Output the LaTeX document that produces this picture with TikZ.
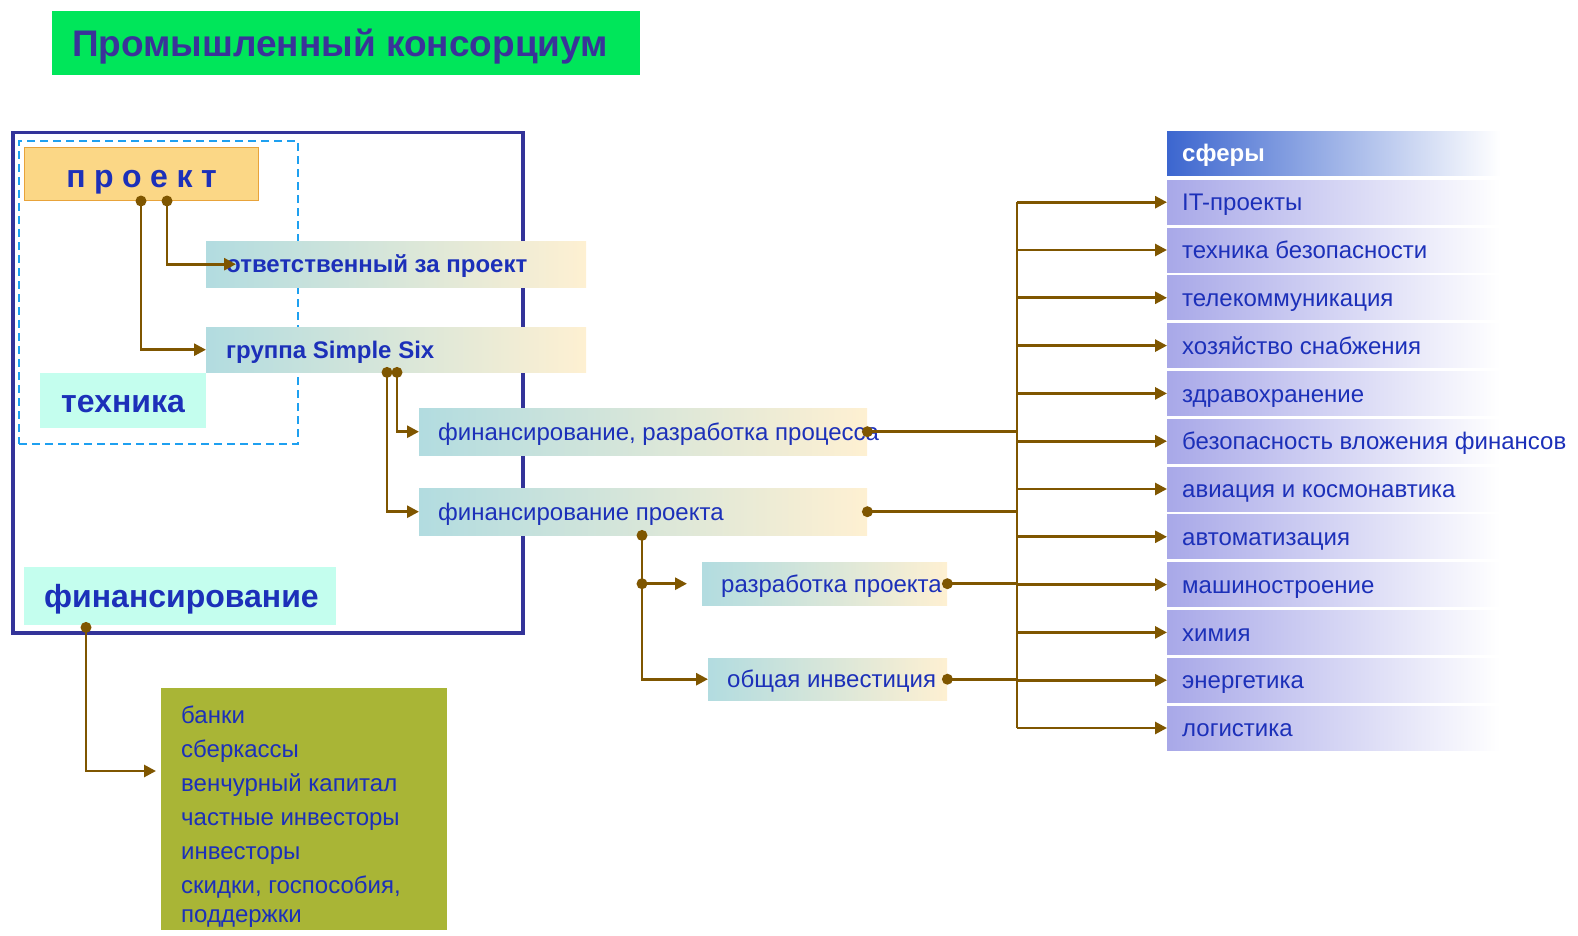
\documentclass[tikz,border=0pt]{standalone}
\usepackage{fontspec}
\setmainfont{Liberation Sans}
\usetikzlibrary{arrows.meta}
\definecolor{tgreen}{RGB}{0,230,90}
\definecolor{ttext}{RGB}{58,51,153}
\definecolor{cnavy}{RGB}{51,51,153}
\definecolor{dashb}{RGB}{30,160,240}
\definecolor{projfill}{RGB}{251,215,134}
\definecolor{projdraw}{RGB}{232,163,58}
\definecolor{tblue}{RGB}{28,48,185}
\definecolor{cmint}{RGB}{196,254,238}
\definecolor{cteal}{RGB}{178,220,224}
\definecolor{ccream}{RGB}{254,240,210}
\definecolor{colive}{RGB}{169,181,54}
\definecolor{clav}{RGB}{168,168,232}
\definecolor{hdrblue}{RGB}{60,102,207}
\definecolor{cbrown}{RGB}{127,86,0}
\newcommand{\fsz}[1]{\fontsize{#1}{#1}\selectfont}
\tikzset{
  conn/.style={draw=cbrown, line width=2.8pt},
  arr/.style={conn, -{Triangle[length=12pt,width=12pt]}},
  bdot/.style={circle, fill=cbrown, inner sep=0pt, minimum size=11pt},
  gbox/.style={anchor=north west, inner sep=0pt, left color=cteal, right color=ccream},
  sbox/.style={anchor=north west, inner sep=0pt, minimum width=333pt, minimum height=44pt, left color=clav, right color=white},
  tn/.style={font=\fsz{24}, text height=17.3pt, text depth=0pt, inner sep=0pt, anchor=west, text=tblue},
  tb/.style={font=\fsz{24}\bfseries, text height=17.3pt, text depth=0pt, inner sep=0pt, anchor=west, text=tblue},
  tbig/.style={font=\fsz{32}\bfseries, text height=23pt, text depth=0pt, inner sep=0pt, anchor=west, text=tblue},
}
\begin{document}
\begin{tikzpicture}[x=1pt,y=-1pt]
\useasboundingbox (0,0) rectangle (1578,936);
% title
\node[fill=tgreen, anchor=north west, inner sep=0pt, minimum width=588pt, minimum height=64pt] (title) at (52,11) {};
\node[font=\fsz{37}\bfseries, text=ttext, text height=26.6pt, text depth=0pt, inner sep=0pt, anchor=west] (titleT) at ([xshift=20pt]title.west) {Промышленный консорциум};
% frames
\node[draw=cnavy, line width=3.5pt, anchor=north west, inner sep=0pt, minimum width=510pt, minimum height=500pt] (frame) at (11,131) {};
\node[draw=dashb, line width=2pt, dash pattern=on 8pt off 5pt, anchor=north west, inner sep=0pt, minimum width=279pt, minimum height=303pt] (dframe) at (18,140) {};
% left boxes
\node[fill=projfill, draw=projdraw, line width=1pt, anchor=north west, inner sep=0pt, minimum width=234pt, minimum height=53pt] (proj) at (24,147) {};
\node[tbig, anchor=center] (projT) at ([yshift=-2pt]proj.center) {п\hspace{8.5pt}р\hspace{8.5pt}о\hspace{8.5pt}е\hspace{8.5pt}к\hspace{8.5pt}т};
\node[gbox, minimum width=380pt, minimum height=46pt] (otv) at (206,241) {};
\node[tb] (otvT) at ([xshift=20pt]otv.west) {ответственный за проект};
\node[gbox, minimum width=380pt, minimum height=45pt] (grp) at (206,327) {};
\node[tb] (grpT) at ([xshift=20pt]grp.west) {группа Simple Six};
\node[fill=cmint, anchor=north west, inner sep=0pt, minimum width=166pt, minimum height=55pt] (tech) at (40,373) {};
\node[tbig] (techT) at ([xshift=21pt]tech.west) {техника};
\node[fill=cmint, anchor=north west, inner sep=0pt, minimum width=312pt, minimum height=58pt] (fin) at (24,567) {};
\node[tbig] (finT) at ([xshift=20pt]fin.west) {финансирование};
% middle boxes
\node[gbox, minimum width=448pt, minimum height=47pt] (fp) at (419,408) {};
\node[tn] (fpT) at ([xshift=19pt]fp.west) {финансирование, разработка процесса};
\node[gbox, minimum width=448pt, minimum height=47pt] (fpr) at (419,488) {};
\node[tn] (fprT) at ([xshift=19pt]fpr.west) {финансирование проекта};
\node[gbox, minimum width=245pt, minimum height=43pt] (dev) at (702,562) {};
\node[tn] (devT) at ([xshift=19pt]dev.west) {разработка проекта};
\node[gbox, minimum width=239pt, minimum height=42pt] (inv) at (708,658) {};
\node[tn] (invT) at ([xshift=19pt]inv.west) {общая инвестиция};
% banks box
\node[fill=colive, anchor=north west, inner sep=0pt, minimum width=286pt, minimum height=242pt] (banks) at (161,688) {};
\node[font=\fsz{24}, text=tblue, inner sep=0pt, anchor=north west, align=left] (banksT) at (181,706) {банки\\[10pt]сберкассы\\[10pt]венчурный капитал\\[10pt]частные инвесторы\\[10pt]инвесторы\\[10pt]скидки, госпособия,\\[5pt]поддержки};
% spheres
\node[anchor=north west, inner sep=0pt, minimum width=333pt, minimum height=44pt, left color=hdrblue, right color=white] (hdr) at (1167,131) {};
\node[tb, text=white] (hdrT) at ([xshift=15pt]hdr.west) {сферы};
\foreach \i/\t in {1/IT-проекты,2/техника безопасности,3/телекоммуникация,4/хозяйство снабжения,5/здравохранение,6/безопасность вложения финансов,7/авиация и космонавтика,8/автоматизация,9/машиностроение,10/химия,11/энергетика,12/логистика}{
  \node[sbox] (s\i) at (1167,{180+47.8*(\i-1)}) {};
  \node[tn] (s\i T) at ([xshift=15pt]s\i.west) {\t};
}
% connector points
\node[bdot] (pd1) at ([xshift=117pt]proj.south west) {};
\node[bdot] (pd2) at ([xshift=143pt]proj.south west) {};
\coordinate (otvin) at ([xshift=30pt]otv.west);
\node[bdot] (gd1) at ([xshift=181pt]grp.south west) {};
\node[bdot] (gd2) at ([xshift=191pt]grp.south west) {};
\node[bdot] (fpd) at (fp.east) {};
\node[bdot] (fprd) at (fpr.east) {};
\node[bdot] (fprb) at ([xshift=223pt]fpr.south west) {};
\node[bdot] (fprm) at (fprb |- dev.west) {};
\coordinate (devin) at ([xshift=-15pt]dev.west);
\node[bdot] (devd) at (dev.east) {};
\node[bdot] (invd) at (inv.east) {};
\node[bdot] (fd) at ([xshift=62pt,yshift=-2pt]fin.south west) {};
\coordinate (bkin) at (156,771);
\coordinate (bus) at (1017,203);
% connectors
\draw[arr] (pd1.center) |- (grp.west);
\draw[arr] (pd2.center) |- (otvin);
\draw[arr] (gd2.center) |- (fp.west);
\draw[arr] (gd1.center) |- (fpr.west);
\draw[arr] (fprb.center) |- (inv.west);
\draw[arr] (fprm.center) -- (devin);
\draw[arr] (fd.center) |- (bkin);
\draw[conn] (fpd.center) -- (bus |- fpd);
\draw[conn] (fprd.center) -- (bus |- fprd);
\draw[conn] (devd.center) -- (bus |- devd);
\draw[conn] (invd.center) -- (bus |- invd);
\draw[conn] (bus |- s1.west) -- (bus |- s12.west);
\foreach \i in {1,...,12}{
  \draw[arr] (bus |- s\i.west) -- (s\i.west);
}
\end{tikzpicture}
\end{document}
